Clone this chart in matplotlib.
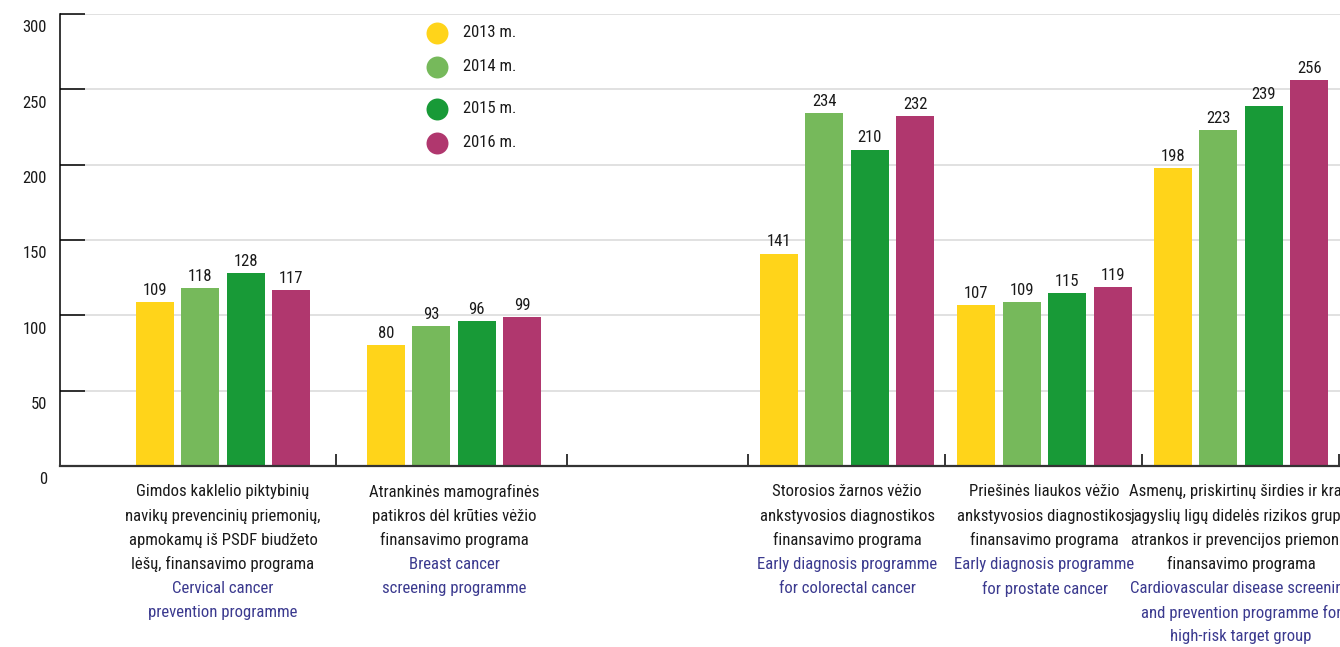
import numpy as np
import matplotlib.pyplot as plt
from matplotlib import font_manager as fm
from matplotlib.transforms import ScaledTranslation

# prefer a narrow sans if one is installed
avail = {f.name for f in fm.fontManager.ttflist}
family = next((n for n in ["Roboto Condensed", "Liberation Sans Narrow",
                           "DejaVu Sans Condensed", "Open Sans Condensed",
                           "Roboto", "Liberation Sans"] if n in avail),
              "DejaVu Sans")
plt.rcParams["font.family"] = [family, "DejaVu Sans"]

years = ["2013 m.", "2014 m.", "2015 m.", "2016 m."]
colors = ["#ffd41a", "#76b95b", "#189a37", "#b0376e"]

# values per programme, one list per year
v2013 = [109, 80, 141, 107, 198]
v2014 = [118, 93, 234, 109, 223]
v2015 = [128, 96, 210, 115, 239]
v2016 = [117, 99, 232, 119, 256]

labels_lt = [
    ["Gimdos kaklelio piktybinių", "navikų prevencinių priemonių,",
     "apmokamų iš PSDF biudžeto", "lėšų, finansavimo programa"],
    ["Atrankinės mamografinės", "patikros dėl krūties vėžio",
     "finansavimo programa"],
    ["Storosios žarnos vėžio", "ankstyvosios diagnostikos",
     "finansavimo programa"],
    ["Priešinės liaukos vėžio", "ankstyvosios diagnostikos",
     "finansavimo programa"],
    ["Asmenų, priskirtinų širdies ir krau-", "jagyslių ligų didelės rizikos grupei",
     "atrankos ir prevencijos priemonių", "finansavimo programa"],
]
labels_en = [
    ["Cervical cancer", "prevention programme"],
    ["Breast cancer", "screening programme"],
    ["Early diagnosis programme", "for colorectal cancer"],
    ["Early diagnosis programme", "for prostate cancer"],
    ["Cardiovascular disease screening", "and prevention programme for",
     "high-risk target group"],
]

# layout: group centres and slot borders on the x axis (one unit = one pixel)
centers = np.array([163, 394, 787, 984.5, 1181])
borders = [276, 507, 688, 885, 1082, 1279]
bar_w = 38
step = 45.5

fig = plt.figure(figsize=(13.4, 6.47), dpi=100)
ax = fig.add_axes([60 / 1340, 181 / 647, 1280 / 1340, 452 / 647])
renderer = fig.canvas.get_renderer()


def fit_size(s, width_px):
    t = fig.text(0, 0, s, fontsize=10)
    w = t.get_window_extent(renderer).width
    t.remove()
    return 10 * width_px / w


cat_fs = min(fit_size("Gimdos kaklelio piktybinių", 173), 13)
num_fs = min(fit_size("2013 m.", 53), 13.5)
dark = "#1a1a1a"
blue = "#3b3a8f"

series = [v2013, v2014, v2015, v2016]
for i, (vals, col) in enumerate(zip(series, colors)):
    xs = centers + (i - 1.5) * step
    bars = ax.bar(xs, vals, width=bar_w, color=col, zorder=3)
    ax.bar_label(bars, padding=3, fontsize=num_fs, color=dark)

ax.set_xlim(0, 1280)
ax.set_ylim(0, 300)
yt = np.arange(0, 301, 50)
ax.set_yticks(yt)
ax.set_yticklabels([])
ax.yaxis.grid(True, color="#dcdcdc", linewidth=1.2, zorder=0)
ax.tick_params(axis="y", direction="in", length=18, width=1.1, color="black")
ax.set_xticks([])
ax.set_xticks(borders, minor=True)
ax.tick_params(axis="x", which="minor", direction="in", length=8.5, width=1.1,
               color="black")

for s in ["top", "right"]:
    ax.spines[s].set_visible(False)
ax.spines["left"].set_linewidth(1.1)
ax.spines["left"].set_color("black")
ax.spines["bottom"].set_linewidth(1.6)
ax.spines["bottom"].set_color("#333333")
ax.spines["bottom"].set_zorder(4)

# y tick labels sit a little below their gridlines
ytrans = ax.get_yaxis_transform() + ScaledTranslation(-0.13, -0.14, fig.dpi_scale_trans)
for v in yt:
    ax.text(0, v, str(v), transform=ytrans, ha="right", va="center",
            fontsize=num_fs, color=dark)

# legend
leg_y = [0.958, 0.883, 0.790, 0.715]
for yr, col, ly in zip(years, colors, leg_y):
    ax.scatter([0.2945], [ly], s=250, color=col, transform=ax.transAxes,
               clip_on=False, zorder=5, linewidths=0)
    ax.text(0.315, ly, yr, transform=ax.transAxes, ha="left", va="center",
            fontsize=num_fs, color=dark)

# category labels under the axis
xtrans = ax.get_xaxis_transform()
for cx, lt, en in zip(centers, labels_lt, labels_en):
    lines = [(t, dark) for t in lt] + [(t, blue) for t in en]
    for k, (t, c) in enumerate(lines):
        ax.annotate(t, xy=(cx, 0), xycoords=xtrans,
                    xytext=(0, -(18.7 + 17.4 * k)), textcoords="offset points",
                    ha="center", va="center", fontsize=cat_fs, color=c,
                    annotation_clip=False)

fig.savefig("out.png", dpi=100)
